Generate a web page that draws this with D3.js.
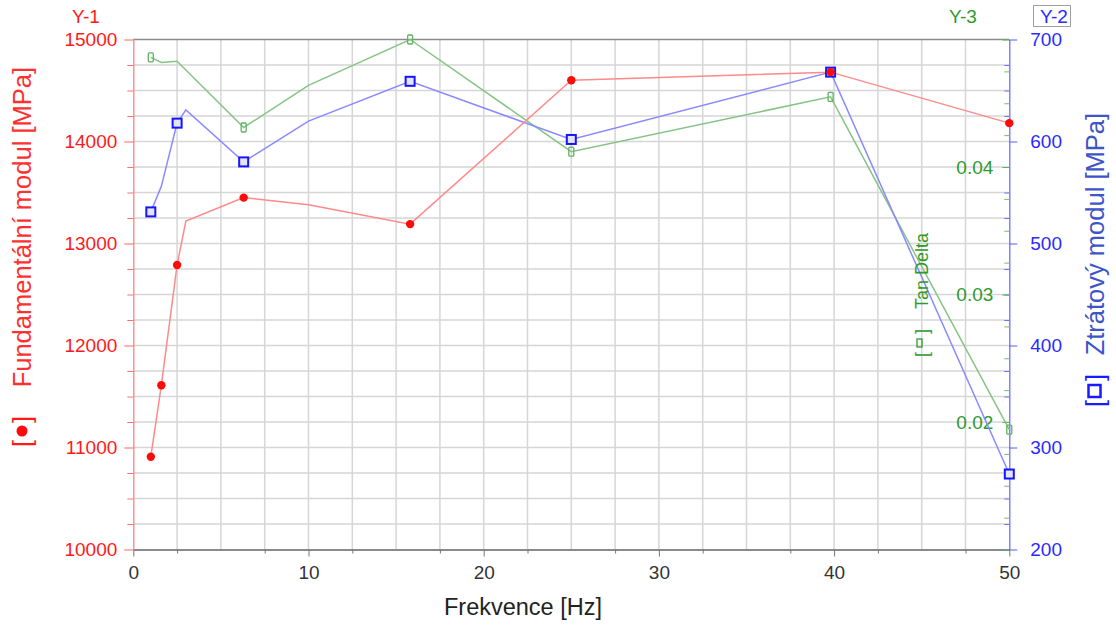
<!DOCTYPE html>
<html><head><meta charset="utf-8">
<script src="https://cdn.jsdelivr.net/npm/d3@7"></script>
<style>
body{margin:0;background:#fff;}
svg{display:block;}
text{font-family:"Liberation Sans",Arial,sans-serif;}
</style>
</head><body>
<svg id="c" width="1116" height="626"></svg>
<script>
// ---- data ----
const frequency = [1, 1.6, 2.5, 3, 6.3, 10, 15.8, 25, 39.8, 50];
const fundamentalModulus = [10910, 11610, 12790, 13220, 13450, 13380, 13190, 14600, 14680, 14180];
const lossModulus = [531, 556, 618, 631, 580, 620, 659, 602, 668, 274];
const tanDelta = [0.0486, 0.0482, 0.0483, null, 0.0431, 0.0464, 0.0500, 0.0412, 0.0455, 0.0194];
const fundamentalMarked = [true, true, true, false, true, false, true, true, true, true];
const lossMarked = [true, false, true, false, true, false, true, true, true, true];
const tanDeltaMarked = [true, false, false, false, true, false, true, true, true, true];
const xTicks = [0, 10, 20, 30, 40, 50];
const y1Ticks = [10000, 11000, 12000, 13000, 14000, 15000];
const y2Ticks = [200, 300, 400, 500, 600, 700];
const y3Ticks = [0.02, 0.03, 0.04];
const y3AllTicks = [0.01, 0.02, 0.03, 0.04, 0.05];

// ---- layout ----
const L = 133.3, R = 1009.3, T = 39.5, B = 549.5;
const svg = d3.select("#c");
const x = d3.scaleLinear([0, 50], [L, R]);
const y1 = d3.scaleLinear([10000, 15000], [B, T]);
const y2 = d3.scaleLinear([200, 700], [B, T]);
const y3 = d3.scaleLinear([0.01, 0.05], [B, T]);

const RED = "#ff1a1a", BLUE = "#1a1aff", GREEN = "#2e9a2e";

// grid
const grid = svg.append("g");
grid.selectAll("line.v").data(d3.range(2.5, 50, 2.5)).join("line")
  .attr("x1", d => x(d)).attr("x2", d => x(d)).attr("y1", T).attr("y2", B)
  .attr("stroke", "#d6d6d6").attr("stroke-width", 1.5);
grid.selectAll("line.h").data(d3.range(10250, 15000, 250)).join("line")
  .attr("x1", L).attr("x2", R).attr("y1", d => y1(d)).attr("y2", d => y1(d))
  .attr("stroke", "#d6d6d6").attr("stroke-width", 1.5);
// top frame
svg.append("line").attr("x1", L).attr("x2", R).attr("y1", T).attr("y2", T)
  .attr("stroke", "#8a8a8a").attr("stroke-width", 1.3);

function styleAxis(g, color, size) {
  g.attr("font-size", size).attr("font-family", "'Liberation Sans', Arial, sans-serif");
  g.selectAll("text").attr("fill", color);
  g.selectAll(".tick line").attr("stroke", color);
}

// bottom axis
const gx = svg.append("g").attr("transform", `translate(0,${B})`)
  .call(d3.axisBottom(x).tickValues(xTicks).tickSize(7).tickSizeOuter(0).tickPadding(9).tickFormat(d3.format("d")));
styleAxis(gx, "#333", 19);
gx.select(".domain").attr("stroke", "#8a8a8a").attr("stroke-width", 2);
gx.selectAll(".tick line").attr("stroke", "#777");
const gxm = svg.append("g").attr("transform", `translate(0,${B})`)
  .call(d3.axisBottom(x).tickValues(d3.range(2.5, 50, 5)).tickSize(4).tickSizeOuter(0).tickFormat(""));
gxm.select(".domain").remove();
gxm.selectAll(".tick line").attr("stroke", "#777");

// left Y-1 axis
const gy1 = svg.append("g").attr("transform", `translate(${L},0)`)
  .call(d3.axisLeft(y1).tickValues(y1Ticks).tickSize(9).tickSizeOuter(0).tickPadding(7).tickFormat(d3.format("d")));
styleAxis(gy1, RED, 19);
gy1.select(".domain").attr("stroke", "#ff8080").attr("stroke-width", 1.3);
gy1.selectAll(".tick line").attr("stroke", "#ff6060");
const gy1m = svg.append("g").attr("transform", `translate(${L},0)`)
  .call(d3.axisLeft(y1).tickValues(d3.range(10250, 15000, 250).filter(v => v % 1000 !== 0)).tickSize(6).tickFormat(""));
gy1m.select(".domain").remove();
gy1m.selectAll(".tick line").attr("stroke", "#ff7070");

// right Y-2 axis
const gy2 = svg.append("g").attr("transform", `translate(${R},0)`)
  .call(d3.axisRight(y2).tickValues(y2Ticks).tickSize(8).tickSizeOuter(0).tickPadding(13).tickFormat(d3.format("d")));
styleAxis(gy2, "#2a2aff", 19);
gy2.select(".domain").attr("stroke", "#6f6fff").attr("stroke-width", 1.3);
gy2.selectAll(".tick line").attr("stroke", "#5a5aff");
const gy2m = svg.append("g").attr("transform", `translate(${R},0)`)
  .call(d3.axisLeft(y2).tickValues(d3.range(225, 700, 25).filter(v => v % 100 !== 0)).tickSize(5).tickFormat(""));
gy2m.select(".domain").remove();
gy2m.selectAll(".tick line").attr("stroke", "#7070ff");

// Y-3 axis (on right edge, ticks pointing inward)
const gy3 = svg.append("g").attr("transform", `translate(${R},0)`)
  .call(d3.axisLeft(y3).tickValues(y3AllTicks).tickSize(7).tickSizeOuter(0).tickPadding(9)
    .tickFormat(d => y3Ticks.includes(d) ? d3.format(".2f")(d) : ""));
styleAxis(gy3, GREEN, 19);
gy3.select(".domain").remove();
gy3.selectAll(".tick line").attr("stroke", "#5cb85c");
const gy3m = svg.append("g").attr("transform", `translate(${R},0)`)
  .call(d3.axisLeft(y3).tickValues([0.0125,0.015,0.0175,0.0225,0.025,0.0275,0.0325,0.035,0.0375,0.0425,0.045,0.0475]).tickSize(5).tickFormat(""));
gy3m.select(".domain").remove();
gy3m.selectAll(".tick line").attr("stroke", "#6cc06c");

// ---- series ----
function pts(vals, marked) {
  return frequency.map((f, i) => ({ f, v: vals[i], m: marked[i] })).filter(d => d.v != null);
}
const redPts = pts(fundamentalModulus, fundamentalMarked);
const bluePts = pts(lossModulus, lossMarked);
const greenPts = pts(tanDelta, tanDeltaMarked);

const plot = svg.append("g");
plot.append("path").datum(greenPts)
  .attr("d", d3.line().x(d => x(d.f)).y(d => y3(d.v)))
  .attr("fill", "none").attr("stroke", "#86c486").attr("stroke-width", 1.5);
plot.append("path").datum(bluePts)
  .attr("d", d3.line().x(d => x(d.f)).y(d => y2(d.v)))
  .attr("fill", "none").attr("stroke", "#8a8aff").attr("stroke-width", 1.5);
plot.append("path").datum(redPts)
  .attr("d", d3.line().x(d => x(d.f)).y(d => y1(d.v)))
  .attr("fill", "none").attr("stroke", "#ff8a8a").attr("stroke-width", 1.5);

// Tan Delta markers (narrow open rectangles)
plot.selectAll("rect.g").data(greenPts.filter(d => d.m)).join("rect")
  .attr("x", d => x(d.f) - 2.5).attr("y", d => y3(d.v) - 4.5)
  .attr("width", 5).attr("height", 9).attr("rx", 1)
  .attr("fill", "none").attr("stroke", "#5fb35f").attr("stroke-width", 1.3);
// loss modulus markers (open squares)
plot.selectAll("rect.b").data(bluePts.filter(d => d.m)).join("rect")
  .attr("x", d => x(d.f) - 4.5).attr("y", d => y2(d.v) - 4.5)
  .attr("width", 9).attr("height", 9)
  .attr("fill", "#e4e4f4").attr("stroke", "#1414ff").attr("stroke-width", 2);
// fundamental modulus markers (filled circles)
plot.selectAll("circle.r").data(redPts.filter(d => d.m)).join("circle")
  .attr("cx", d => x(d.f)).attr("cy", d => y1(d.v)).attr("r", 4.2)
  .attr("fill", "#ff0a0a");

// ---- header labels ----
svg.append("text").attr("x", 86).attr("y", 23).attr("text-anchor", "middle")
  .attr("font-size", 19).attr("fill", RED).text("Y-1");
svg.append("text").attr("x", 963).attr("y", 23).attr("text-anchor", "middle")
  .attr("font-size", 19).attr("fill", GREEN).text("Y-3");
svg.append("rect").attr("x", 1033.5).attr("y", 5.5).attr("width", 37).attr("height", 21)
  .attr("fill", "#fff").attr("stroke", "#a0a0a0").attr("stroke-width", 1);
svg.append("text").attr("x", 1054).attr("y", 23).attr("text-anchor", "middle")
  .attr("font-size", 19).attr("fill", "#2a2aff").text("Y-2");

// ---- axis titles ----
svg.append("text").attr("x", 523).attr("y", 615).attr("text-anchor", "middle")
  .attr("font-size", 23.5).attr("fill", "#222").attr("font-family", "'Open Sans', sans-serif")
  .text("Frekvence [Hz]");

// left title
const lt = svg.append("g").attr("transform", "translate(31,447) rotate(-90)");
lt.append("text").attr("x", 0).attr("y", 0).attr("font-size", 25).attr("fill", RED).text("[");
lt.append("circle").attr("cx", 16).attr("cy", -9).attr("r", 5.5).attr("fill", "#ff0a0a");
lt.append("text").attr("x", 24).attr("y", 0).attr("font-size", 25).attr("fill", RED).text("]");
lt.append("text").attr("x", 380).attr("y", 0).attr("text-anchor", "end")
  .attr("font-size", 25.5).attr("fill", "#ff3030").text("Fundamentální modul [MPa]");

// right title
const rt = svg.append("g").attr("transform", "translate(1104,407) rotate(-90)");
rt.append("text").attr("x", 0).attr("y", 0).attr("font-size", 25).attr("fill", BLUE).text("[");
rt.append("rect").attr("x", 10).attr("y", -15.5).attr("width", 12).attr("height", 12)
  .attr("fill", "none").attr("stroke", BLUE).attr("stroke-width", 2.5);
rt.append("text").attr("x", 26).attr("y", 0).attr("font-size", 25).attr("fill", BLUE).text("]");
rt.append("text").attr("x", 294).attr("y", 0).attr("text-anchor", "end")
  .attr("font-size", 25.5).attr("fill", "#3d55c8").text("Ztrátový modul [MPa]");

// Tan Delta label
const tl = svg.append("g").attr("transform", "translate(928,357) rotate(-90)");
tl.append("text").attr("x", 0).attr("y", 0).attr("font-size", 18).attr("fill", GREEN).text("[");
tl.append("rect").attr("x", 10).attr("y", -11).attr("width", 8).attr("height", 5)
  .attr("fill", "none").attr("stroke", GREEN).attr("stroke-width", 1.3);
tl.append("text").attr("x", 23).attr("y", 0).attr("font-size", 18).attr("fill", GREEN).text("]");
tl.append("text").attr("x", 124).attr("y", 0).attr("text-anchor", "end")
  .attr("font-size", 18).attr("fill", GREEN).text("Tan Delta");
</script>
</body></html>
